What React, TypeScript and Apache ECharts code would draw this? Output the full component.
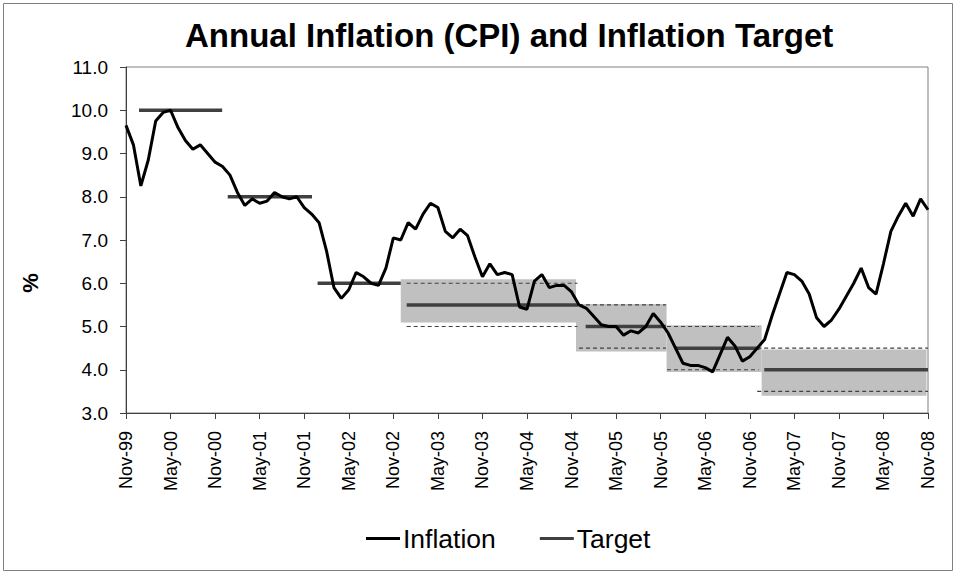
import React, { useEffect, useRef } from "react";
import * as echarts from "echarts";

// Monthly categories Nov-99 .. Nov-08
const MONTH_NAMES = ["Jan", "Feb", "Mar", "Apr", "May", "Jun", "Jul", "Aug", "Sep", "Oct", "Nov", "Dec"];
const START_YEAR = 1999;
const START_MONTH = 10; // November (0-based)
const MONTH_COUNT = 109;
const months: string[] = [];
for (let k = 0; k < MONTH_COUNT; k++) {
  const m = (START_MONTH + k) % 12;
  const y = START_YEAR + Math.floor((START_MONTH + k) / 12);
  months.push(MONTH_NAMES[m] + "-" + String(y % 100).padStart(2, "0"));
}

// Annual CPI inflation, %
const inflation = [
  9.65, 9.2, 8.25, 8.85, 9.75, 9.95, 10.0, 9.6, 9.3, 9.1, 9.2, 9.0,
  8.8, 8.7, 8.5, 8.1, 7.8, 7.95, 7.85, 7.9, 8.1, 8.0, 7.95, 8.0,
  7.75, 7.6, 7.4, 6.75, 5.9, 5.65, 5.85, 6.25, 6.15, 6.0, 5.95, 6.35,
  7.05, 7.0, 7.4, 7.25, 7.6, 7.85, 7.75, 7.2, 7.05, 7.25, 7.1, 6.6,
  6.15, 6.45, 6.2, 6.25, 6.2, 5.45, 5.4, 6.05, 6.2, 5.9, 5.95, 5.95,
  5.8, 5.5, 5.42, 5.23, 5.04, 5.0, 5.0, 4.8, 4.9, 4.85, 5.0, 5.3,
  5.1, 4.85, 4.5, 4.15, 4.1, 4.1, 4.05, 3.95, 4.35, 4.75, 4.55, 4.2,
  4.3, 4.5, 4.7, 5.25, 5.75, 6.25, 6.2, 6.05, 5.75, 5.2, 5.0, 5.15,
  5.4, 5.7, 6.0, 6.35, 5.9, 5.75, 6.45, 7.2, 7.55, 7.85, 7.55, 7.95,
  7.7,
];

// Target segments (x in months from Nov-99)
const targetStart = [1.75, 13.7, 25.8, 37.8, 61.9, 73.9, 85.95];
const targetEnd = [12.95, 25.05, 37.0, 60.9, 72.7, 85.3, 108];
const targetValue = [10, 8, 6, 5.5, 5, 4.5, 4];

// Grey tolerance bands
const bandStart = [37.0, 60.6, 72.8, 85.6];
const bandEnd = [60.6, 72.8, 85.6, 107.8];
const bandLow = [5.09, 4.42, 3.95, 3.4];
const bandHigh = [6.09, 5.52, 5.03, 4.47];

// Dashed tolerance range lines
const rangeStart = [37.8, 61.0, 72.85, 85.0];
const rangeEnd = [60.8, 72.7, 85.2, 108];
const rangeLow = [5.0, 4.5, 4.0, 3.5];
const rangeHigh = [6.0, 5.5, 5.0, 4.5];

// Y axis
const Y_MIN = 3;
const Y_MAX = 11;
const Y_INTERVAL = 1;

const FONT = "Liberation Sans, Arial, sans-serif";

export default function App() {
  const ref = useRef<HTMLDivElement>(null);

  useEffect(() => {
    if (!ref.current) return;
    const chart = echarts.init(ref.current, undefined, { renderer: "svg" });

    const bandRows = bandStart.map((s, i) => [s, bandEnd[i], bandLow[i], bandHigh[i]]);
    const rangeRows = rangeStart.map((s, i) => [s, rangeEnd[i], rangeLow[i], rangeHigh[i]]);

    const targetSeries = targetStart.map((s, i) => ({
      type: "line",
      name: "Target",
      xAxisIndex: 1,
      yAxisIndex: 0,
      data: [
        [s, targetValue[i]],
        [targetEnd[i], targetValue[i]],
      ],
      symbol: "none",
      color: "#404040",
      lineStyle: { color: "#404040", width: 3.5 },
      z: 4,
      silent: true,
    }));

    const option: any = {
      animation: false,
      backgroundColor: "#ffffff",
      textStyle: { fontFamily: FONT },
      title: {
        text: "Annual Inflation (CPI) and Inflation Target",
        left: 180,
        top: 14,
        textStyle: { fontFamily: FONT, fontSize: 33, fontWeight: "bold", color: "#000" },
      },
      legend: {
        data: ["Inflation", "Target"],
        left: 366,
        top: 525,
        padding: 0,
        icon: "rect",
        itemWidth: 34,
        itemHeight: 3,
        itemGap: 44,
        textStyle: { fontFamily: FONT, fontSize: 26.5, color: "#000", padding: [0, 0, 0, -2] },
      },
      grid: {
        left: 126,
        right: 29,
        top: 67,
        bottom: 161,
        show: true,
        borderColor: "#808080",
        borderWidth: 1,
      },
      xAxis: [
        {
          type: "category",
          data: months,
          boundaryGap: false,
          axisLine: { lineStyle: { color: "#404040", width: 1 } },
          axisTick: { interval: 5, length: 6, lineStyle: { color: "#404040" } },
          axisLabel: {
            interval: 5,
            rotate: 90,
            fontSize: 18,
            margin: 18,
            color: "#000",
            fontFamily: FONT,
          },
          splitLine: { show: false },
        },
        {
          type: "value",
          min: 0,
          max: MONTH_COUNT - 1,
          show: false,
        },
      ],
      yAxis: {
        type: "value",
        min: Y_MIN,
        max: Y_MAX,
        interval: Y_INTERVAL,
        axisLine: { show: true, lineStyle: { color: "#404040", width: 1 } },
        axisTick: { show: true, length: 6, lineStyle: { color: "#404040" } },
        axisLabel: {
          formatter: (v: number) => v.toFixed(1),
          fontSize: 19,
          margin: 18,
          color: "#000",
          fontFamily: FONT,
        },
        splitLine: { show: false },
      },
      series: [
        {
          type: "custom",
          name: "band",
          xAxisIndex: 1,
          yAxisIndex: 0,
          data: bandRows,
          encode: { x: [0, 1], y: [2, 3] },
          silent: true,
          z: 1,
          renderItem: (params: any, api: any) => {
            const p1 = api.coord([api.value(0), api.value(3)]);
            const p2 = api.coord([api.value(1), api.value(2)]);
            return {
              type: "rect",
              shape: { x: p1[0], y: p1[1], width: p2[0] - p1[0], height: p2[1] - p1[1] },
              style: { fill: "#c0c0c0" },
            };
          },
        },
        {
          type: "custom",
          name: "range",
          xAxisIndex: 1,
          yAxisIndex: 0,
          data: rangeRows,
          encode: { x: [0, 1], y: [2, 3] },
          silent: true,
          z: 2,
          renderItem: (params: any, api: any) => {
            const a1 = api.coord([api.value(0), api.value(3)]);
            const a2 = api.coord([api.value(1), api.value(3)]);
            const b1 = api.coord([api.value(0), api.value(2)]);
            const b2 = api.coord([api.value(1), api.value(2)]);
            const style = { stroke: "#404040", lineWidth: 1.2, lineDash: [4, 3] };
            return {
              type: "group",
              children: [
                { type: "line", shape: { x1: a1[0], y1: a1[1], x2: a2[0], y2: a2[1] }, style },
                { type: "line", shape: { x1: b1[0], y1: b1[1], x2: b2[0], y2: b2[1] }, style },
              ],
            };
          },
        },
        ...targetSeries,
        {
          type: "line",
          name: "Inflation",
          data: inflation,
          symbol: "none",
          color: "#000000",
          lineStyle: { color: "#000000", width: 3 },
          z: 5,
          silent: true,
        },
      ],
      graphic: [
        {
          type: "rect",
          shape: { x: 3.5, y: 3.5, width: 949, height: 567 },
          style: { fill: "none", stroke: "#808080", lineWidth: 1 },
          silent: true,
        },
        {
          type: "text",
          x: 30,
          y: 283,
          rotation: Math.PI / 2,
          style: {
            text: "%",
            fontFamily: FONT,
            fontSize: 22,
            fontWeight: "bold",
            fill: "#000",
            textAlign: "center",
            textVerticalAlign: "middle",
          },
          silent: true,
        },
      ],
    };

    chart.setOption(option);
    return () => chart.dispose();
  }, []);

  return (
    <div
      ref={ref}
      style={{ position: "absolute", left: 0, top: 0, width: 957, height: 574 }}
    />
  );
}
